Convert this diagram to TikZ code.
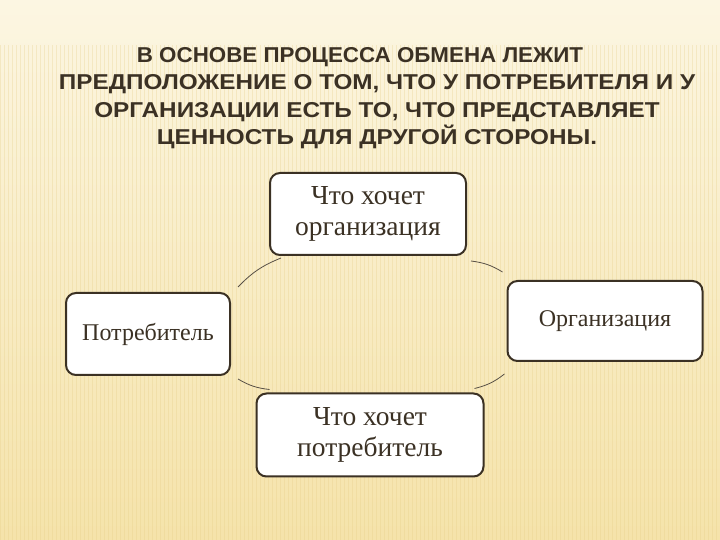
\documentclass[tikz,border=0pt]{standalone}
\usepackage{fontspec}
\setmainfont{Liberation Serif}
\newfontfamily\headfont[FakeStretch=1.13]{Liberation Sans}
\usetikzlibrary{positioning}
\definecolor{slidebg}{HTML}{F5E3AA}
\definecolor{slidetop}{HTML}{FCF6E2}
\definecolor{inkbrown}{HTML}{3B3124}
\definecolor{stripe}{HTML}{E6CD86}
\tikzstyle{link} = [draw=inkbrown!85, line width=0.8pt]
\tikzstyle{every entity} = [draw=inkbrown, line width=2pt, rounded corners=10pt, fill=white, minimum height=82pt, text=inkbrown, align=center]
\tikzstyle{box} = [rectangle, every entity, font=\fontsize{27.5}{31}\selectfont]
\tikzstyle{sidebox} = [rectangle, every entity, font=\fontsize{24}{28}\selectfont]
\tikzstyle{heading} = [text=inkbrown, align=center, font=\headfont\bfseries\fontsize{21.5}{27.5}\selectfont]

\begin{document}
\begin{tikzpicture}[x=1pt, y=1pt]

\useasboundingbox (0,0) rectangle (720,540);

% Background

\shade[top color=slidetop, bottom color=slidebg] (0,0) rectangle (720,540);
\foreach \x in {0,4,...,720}
  \draw[stripe, opacity=0.3, line width=1pt] (\x,0) -- (\x,495);

% Heading

\node[heading] (head) at (377,442) {{\addfontfeature{FakeStretch=1.04}В ОСНОВЕ ПРОЦЕССА ОБМЕНА ЛЕЖИТ}\hspace*{34pt}\\ПРЕДПОЛОЖЕНИЕ О ТОМ, ЧТО У ПОТРЕБИТЕЛЯ И У\\ОРГАНИЗАЦИИ ЕСТЬ ТО, ЧТО ПРЕДСТАВЛЯЕТ\\ЦЕННОСТЬ ДЛЯ ДРУГОЙ СТОРОНЫ.};

% Cycle boxes

\node[box, minimum width=196pt] (wantorg) at (368,326) {Что хочет\\организация};

\node[sidebox, minimum width=164pt] (client) at (148,206) {Потребитель};

\node[sidebox, minimum width=195pt, minimum height=80pt] (firm) at (605,219) {Организация};

\node[box, minimum width=227pt, minimum height=83pt] (wantclient) at (370,105) {Что хочет\\потребитель};

% Arcs between boxes

\draw[link] ([shift={(12pt,-2pt)}]wantorg.south west) to[bend right=12] ([shift={(7pt,5pt)}]client.north east);
\draw[link] ([shift={(4pt,-5pt)}]wantorg.south east) to[bend left=12] ([shift={(-4pt,8pt)}]firm.north west);
\draw[link] ([shift={(7pt,-3pt)}]client.south east) to[bend right=12] ([shift={(14pt,3pt)}]wantclient.north west);
\draw[link] ([shift={(-10pt,4pt)}]wantclient.north east) to[bend right=12] ([shift={(-2pt,-12pt)}]firm.south west);

\end{tikzpicture}
\end{document}
